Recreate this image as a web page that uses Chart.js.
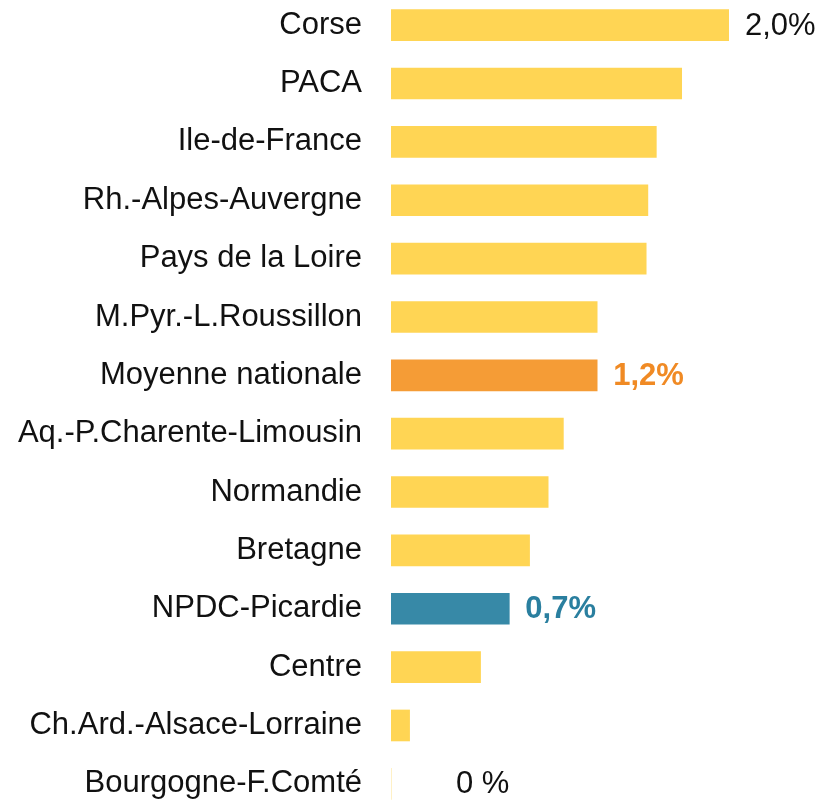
<!DOCTYPE html>
<html>
<head>
<meta charset="utf-8">
<script src="https://cdn.jsdelivr.net/npm/chart.js@4/dist/chart.umd.min.js"></script>
<style>
  html, body { margin: 0; padding: 0; background: #fff; overflow: hidden; }
  #wrap { position: relative; width: 821px; height: 817px; margin-top: -4px; }
</style>
</head>
<body>
<div id="wrap"><canvas id="bar-chart"></canvas></div>
<script>
var regions = ["Corse", "PACA", "Ile-de-France", "Rh.-Alpes-Auvergne", "Pays de la Loire",
  "M.Pyr.-L.Roussillon", "Moyenne nationale", "Aq.-P.Charente-Limousin", "Normandie",
  "Bretagne", "NPDC-Picardie", "Centre", "Ch.Ard.-Alsace-Lorraine", "Bourgogne-F.Comté"];
var values = [2.0, 1.72, 1.57, 1.52, 1.51, 1.22, 1.22, 1.02, 0.93, 0.82, 0.70, 0.53, 0.11, 0];
var valueLabels = ["2,0%", "", "", "", "", "", "1,2%", "", "", "", "0,7%", "", "", "0 %"];

var yellow = "#ffd554", orange = "#f59c36", teal = "#3789a7";
var barColors = regions.map(function (r) {
  if (r == "Moyenne nationale") return orange;
  if (r == "NPDC-Picardie") return teal;
  return yellow;
});
var labelColors = regions.map(function (r) {
  if (r == "Moyenne nationale") return "#f08a24";
  if (r == "NPDC-Picardie") return "#2a7f9f";
  return "#111";
});

var fontFamily = "'Liberation Sans', Arial, sans-serif";

var valueLabelPlugin = {
  id: "valueLabels",
  afterDatasetsDraw: function (chart) {
    var ctx = chart.ctx;
    var meta = chart.getDatasetMeta(0);
    ctx.save();
    ctx.textBaseline = "middle";
    ctx.textAlign = "left";
    meta.data.forEach(function (bar, i) {
      if (!valueLabels[i]) return;
      var special = labelColors[i] != "#111";
      ctx.font = (special ? "bold " : "") + "31px " + fontFamily;
      ctx.fillStyle = labelColors[i];
      var x = values[i] == 0 ? bar.x + 65 : bar.x + 16;
      ctx.fillText(valueLabels[i], x, bar.y + 1);
    });
    ctx.restore();
  }
};

new Chart(document.getElementById("bar-chart"), {
  type: "bar",
  data: {
    labels: regions,
    datasets: [{
      data: values,
      backgroundColor: barColors,
      barThickness: 31
    }]
  },
  options: {
    indexAxis: "y",
    responsive: true,
    maintainAspectRatio: false,
    animation: false,
    layout: { padding: { left: 0, right: 92, top: 0, bottom: 0 } },
    plugins: {
      legend: { display: false },
      tooltip: { enabled: false }
    },
    scales: {
      x: { display: false, min: 0, max: 2.0 },
      y: {
        grid: { display: false, drawTicks: false },
        border: { display: false },
        afterFit: function (scale) {
          scale.width = 391;
          scale.paddingTop = 0;
          scale.paddingBottom = 0;
        },
        ticks: {
          padding: 29,
          color: "#111",
          font: { family: fontFamily, size: 31 }
        }
      }
    }
  },
  plugins: [valueLabelPlugin]
});
</script>
</body>
</html>
